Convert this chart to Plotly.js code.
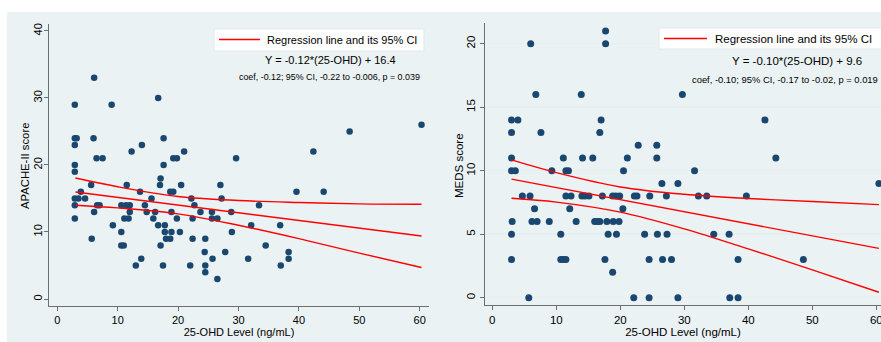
<!DOCTYPE html>
<html><head><meta charset="utf-8">
<script src="https://cdn.plot.ly/plotly-3.0.1.min.js"></script>
<style>html,body{margin:0;padding:0;background:#fff}#chart{width:881px;height:342px}</style>
</head><body><div id="chart"></div>
<script>
// ---------- Data ----------
// Left panel: APACHE-II score vs 25-OHD level
const apacheVitD = [6.1, 16.7, 2.9, 9.0, 60.3, 48.4, 2.9, 3.2, 6.0, 17.6, 2.9, 14.0, 12.3, 21.0, 42.4,
  6.5, 7.5, 19.2, 19.8, 29.6, 2.9, 17.6, 2.9, 17.1, 5.6, 11.5, 17.0, 20.5, 27.0,
  3.9, 13.7, 18.7, 19.2, 39.6, 44.1, 2.9, 3.5, 4.6, 15.6, 22.2, 27.2,
  2.9, 6.6, 7.0, 10.6, 11.4, 12.0, 14.5, 22.7, 33.4,
  6.1, 12.0, 14.8, 16.2, 18.9, 23.7, 25.6, 28.8,
  2.9, 11.1, 11.8, 15.9, 19.8, 22.4, 25.6, 26.5,
  9.2, 16.7, 17.8, 32.1, 36.9, 10.6, 17.8, 18.9, 20.3, 28.9,
  5.7, 18.0, 18.7, 22.4, 24.5, 10.6, 11.0, 17.1, 34.5,
  24.4, 27.8, 38.3, 13.9, 25.7, 31.6, 38.3,
  13.0, 17.5, 22.0, 24.5, 37.0, 24.5, 26.5];
const apacheScore = [33, 30, 29, 29, 26, 25, 24, 24, 24, 24, 23, 23, 22, 22, 22,
  21, 21, 21, 21, 21, 20, 20, 19, 18, 17, 17, 17, 17, 17,
  16, 16, 16, 16, 16, 16, 15, 15, 15, 15, 15, 15,
  14, 14, 14, 14, 14, 14, 14, 14, 14,
  13, 13, 13, 13, 13, 13, 13, 13,
  12, 12, 12, 12, 12, 12, 12, 12,
  11, 11, 11, 11, 11, 10, 10, 10, 10, 10,
  9, 9, 9, 9, 9, 8, 8, 8, 8,
  7, 7, 7, 6, 6, 6, 6,
  5, 5, 5, 5, 5, 4, 3];
const apacheFitX = [3, 60.3];
const apacheFitY = [15.97, 9.4];
const apacheCiX = [3, 10, 20, 30, 40, 50, 60.3];
const apacheCiUpper = [18.05, 16.75, 15.3, 14.7, 14.4, 14.2, 14.15];
const apacheCiLower = [14.0, 13.6, 12.7, 11.0, 9.0, 6.85, 4.7];

// Right panel: MEDS score vs 25-OHD level
const medsVitD = [17.7, 6.0, 17.7, 6.8, 13.9, 29.7, 3.0, 4.0, 17.0, 42.6, 3.0, 7.6, 16.8, 22.8, 25.7,
  3.0, 11.1, 14.1, 15.7, 21.1, 25.7, 44.3, 3.0, 3.6, 9.3, 11.5, 11.9, 20.5, 31.6,
  26.5, 29.0, 60.4,
  4.7, 5.9, 11.5, 12.3, 14.0, 14.5, 15.1, 17.2, 18.8, 19.3, 19.9, 22.2, 22.6, 24.6, 27.2, 32.2, 33.5, 39.7,
  6.6, 12.1, 20.4,
  3.1, 6.2, 7.0, 8.9, 13.1, 16.0, 16.4, 16.8, 17.9, 18.9, 19.8,
  3.0, 10.7, 18.1, 19.4, 23.8, 25.8, 27.3, 34.6, 37.0,
  3.0, 10.7, 11.1, 11.5, 17.6, 24.5, 26.6, 28.0, 38.4, 48.6,
  18.8, 5.7, 22.1, 24.5, 29.0, 37.1, 38.4];
const medsScore = [21, 20, 20, 16, 16, 16, 14, 14, 14, 14, 13, 13, 13, 12, 12,
  11, 11, 11, 11, 11, 11, 11, 10, 10, 10, 10, 10, 10, 10,
  9, 9, 9,
  8, 8, 8, 8, 8, 8, 8, 8, 8, 8, 8, 8, 8, 8, 8, 8, 8, 8,
  7, 7, 7,
  6, 6, 6, 6, 6, 6, 6, 6, 6, 6, 6,
  5, 5, 5, 5, 5, 5, 5, 5, 5,
  3, 3, 3, 3, 3, 3, 3, 3, 3, 3,
  2, 0, 0, 0, 0, 0, 0];
const medsFitX = [3, 60.4];
const medsFitY = [9.34, 3.88];
const medsCiX = [3, 10, 20, 30, 40, 50, 60.4];
const medsCiUpper = [10.85, 9.85, 8.72, 8.14, 7.81, 7.57, 7.33];
const medsCiLower = [7.83, 7.53, 6.74, 5.42, 3.84, 2.19, 0.43];

const xTicks = [0, 10, 20, 30, 40, 50, 60];
const apacheTicks = [0, 10, 20, 30, 40];
const apacheGrid = [0, 10, 20, 30];
const medsTicks = [0, 5, 10, 15, 20];

const xTitle = '25-OHD Level (ng/mL)';
const apacheTitle = 'APACHE-II score';
const medsTitle = 'MEDS score';
const legendLabel = 'Regression line and its 95% CI';
const apacheEq = 'Y = -0.12*(25-OHD) + 16.4';
const apacheStats = 'coef, -0.12; 95% CI, -0.22 to -0.006, p = 0.039';
const medsEq = 'Y = -0.10*(25-OHD) + 9.6';
const medsStats = 'coef, -0.10; 95% CI, -0.17 to -0.02, p = 0.019';

// ---------- Styling ----------
const W = 881, H = 342;
const px = v => v / W;
const py = v => 1 - v / H;
const NAVY = '#1a476f', RED = '#ff0000', BG = '#eaf2f3', GRID = '#e6eef0', AX = '#6e6e6e';
const FONT = 'Liberation Sans, Arial, Helvetica, sans-serif';

function pts(x, y, xa, ya, size) {
  return {x: x, y: y, xaxis: xa, yaxis: ya, type: 'scatter', mode: 'markers',
    marker: {color: NAVY, size: size, line: {width: 0}}, showlegend: false, hoverinfo: 'x+y'};
}
function ln(x, y, xa, ya, name, shape) {
  return {x: x, y: y, xaxis: xa, yaxis: ya, type: 'scatter', mode: 'lines', name: name,
    line: {color: RED, width: 1.4, shape: shape || 'linear', smoothing: 1}, showlegend: false};
}

const traces = [
  pts(apacheVitD, apacheScore, 'x', 'y', 6.5),
  ln(apacheCiX, apacheCiUpper, 'x', 'y', 'Upper 95% CI', 'spline'),
  ln(apacheFitX, apacheFitY, 'x', 'y', legendLabel),
  ln(apacheCiX, apacheCiLower, 'x', 'y', 'Lower 95% CI', 'spline'),
  pts(medsVitD, medsScore, 'x2', 'y2', 7),
  ln(medsCiX, medsCiUpper, 'x2', 'y2', 'Upper 95% CI', 'spline'),
  ln(medsFitX, medsFitY, 'x2', 'y2', legendLabel),
  ln(medsCiX, medsCiLower, 'x2', 'y2', 'Lower 95% CI', 'spline')
];

function xAxis(domain, range, anchor, fs) {
  return {domain: domain, range: range, anchor: anchor, tickmode: 'array', tickvals: xTicks,
    ticks: 'outside', ticklen: 4, tickwidth: 1, tickcolor: AX, showline: true, linecolor: AX, linewidth: 1,
    showgrid: false, zeroline: false, tickfont: {size: fs, color: '#000'}, fixedrange: true,
    ticklabeloverflow: 'allow',
    title: {text: xTitle, font: {size: fs, color: '#000'}, standoff: 1}};
}
function yAxis(domain, range, anchor, ticks, fs, grid, shift) {
  return {domain: domain, range: range, anchor: anchor, tickmode: 'array', tickvals: ticks,
    tickangle: -90, ticks: 'outside', ticklen: 4, tickwidth: 1, tickcolor: AX, ticklabelstandoff: shift,
    showline: true, linecolor: AX, linewidth: 1, showgrid: grid, gridcolor: GRID, gridwidth: 1.5,
    zeroline: false, tickfont: {size: fs, color: '#000'}, fixedrange: true};
}

const leftDom = [px(49), px(429)], leftYDom = [py(306), py(24)];
const rightDom = [px(485), 1], rightYDom = [py(305), py(23)];
const leftYRange = [-1.045, 41.04];

function note(text, x, y, size, anchor, angle) {
  return {text: text, xref: 'paper', yref: 'paper', x: px(x), y: py(y), xanchor: anchor || 'center',
    yanchor: 'middle', showarrow: false, textangle: angle || 0, font: {size: size, color: '#000'}};
}

const layout = {
  width: W, height: H, margin: {l: 0, r: 0, t: 0, b: 0},
  paper_bgcolor: '#ffffff', plot_bgcolor: '#ffffff', showlegend: false,
  font: {family: FONT, color: '#000'},
  xaxis: xAxis(leftDom, [-1.374, 61.54], 'y', 11),
  yaxis: yAxis(leftYDom, leftYRange, 'x', apacheTicks, 11, false, -2),
  yaxis3: {overlaying: 'y', anchor: 'x', range: leftYRange, domain: leftYDom, tickmode: 'array',
    tickvals: apacheGrid, showticklabels: false, ticks: '', showline: false, zeroline: false,
    showgrid: true, gridcolor: GRID, gridwidth: 1.5, fixedrange: true},
  xaxis2: xAxis(rightDom, [-1.14, 60.73], 'y2', 11.5),
  yaxis2: yAxis(rightYDom, [-0.575, 21.63], 'x2', medsTicks, 11.5, true, 0),
  shapes: [
    {type: 'rect', xref: 'paper', yref: 'paper', x0: px(7), x1: 1, y0: 0, y1: py(12),
      fillcolor: BG, line: {width: 0}, layer: 'below'},
    // legend boxes
    {type: 'rect', xref: 'paper', yref: 'paper', x0: px(214), x1: px(424), y0: py(51), y1: py(29),
      fillcolor: '#ffffff', line: {color: '#e2e9eb', width: 1}, layer: 'above'},
    {type: 'line', xref: 'paper', yref: 'paper', x0: px(219), x1: px(260), y0: py(39.5), y1: py(39.5),
      line: {color: RED, width: 1.4}},
    {type: 'rect', xref: 'paper', yref: 'paper', x0: px(659), x1: px(900), y0: py(49), y1: py(28),
      fillcolor: '#ffffff', line: {color: '#e2e9eb', width: 1}, layer: 'above'},
    {type: 'line', xref: 'paper', yref: 'paper', x0: px(664), x1: px(707), y0: py(38.5), y1: py(38.5),
      line: {color: RED, width: 1.4}}
  ],
  annotations: [
    note(apacheTitle, 25, 166, 11.3, 'center', -90),
    note(medsTitle, 459, 165, 11.5, 'center', -90),
    note(legendLabel, 265, 40, 11, 'left'),
    note(apacheEq, 330, 60, 11),
    note(apacheStats, 329, 77, 8.9),
    note(legendLabel, 713, 39, 11.5, 'left'),
    note(medsEq, 797, 61, 11.5),
    note(medsStats, 785, 79, 9.4)
  ]
};

Plotly.newPlot('chart', traces, layout, {displayModeBar: false, staticPlot: true});
</script>
</body></html>
